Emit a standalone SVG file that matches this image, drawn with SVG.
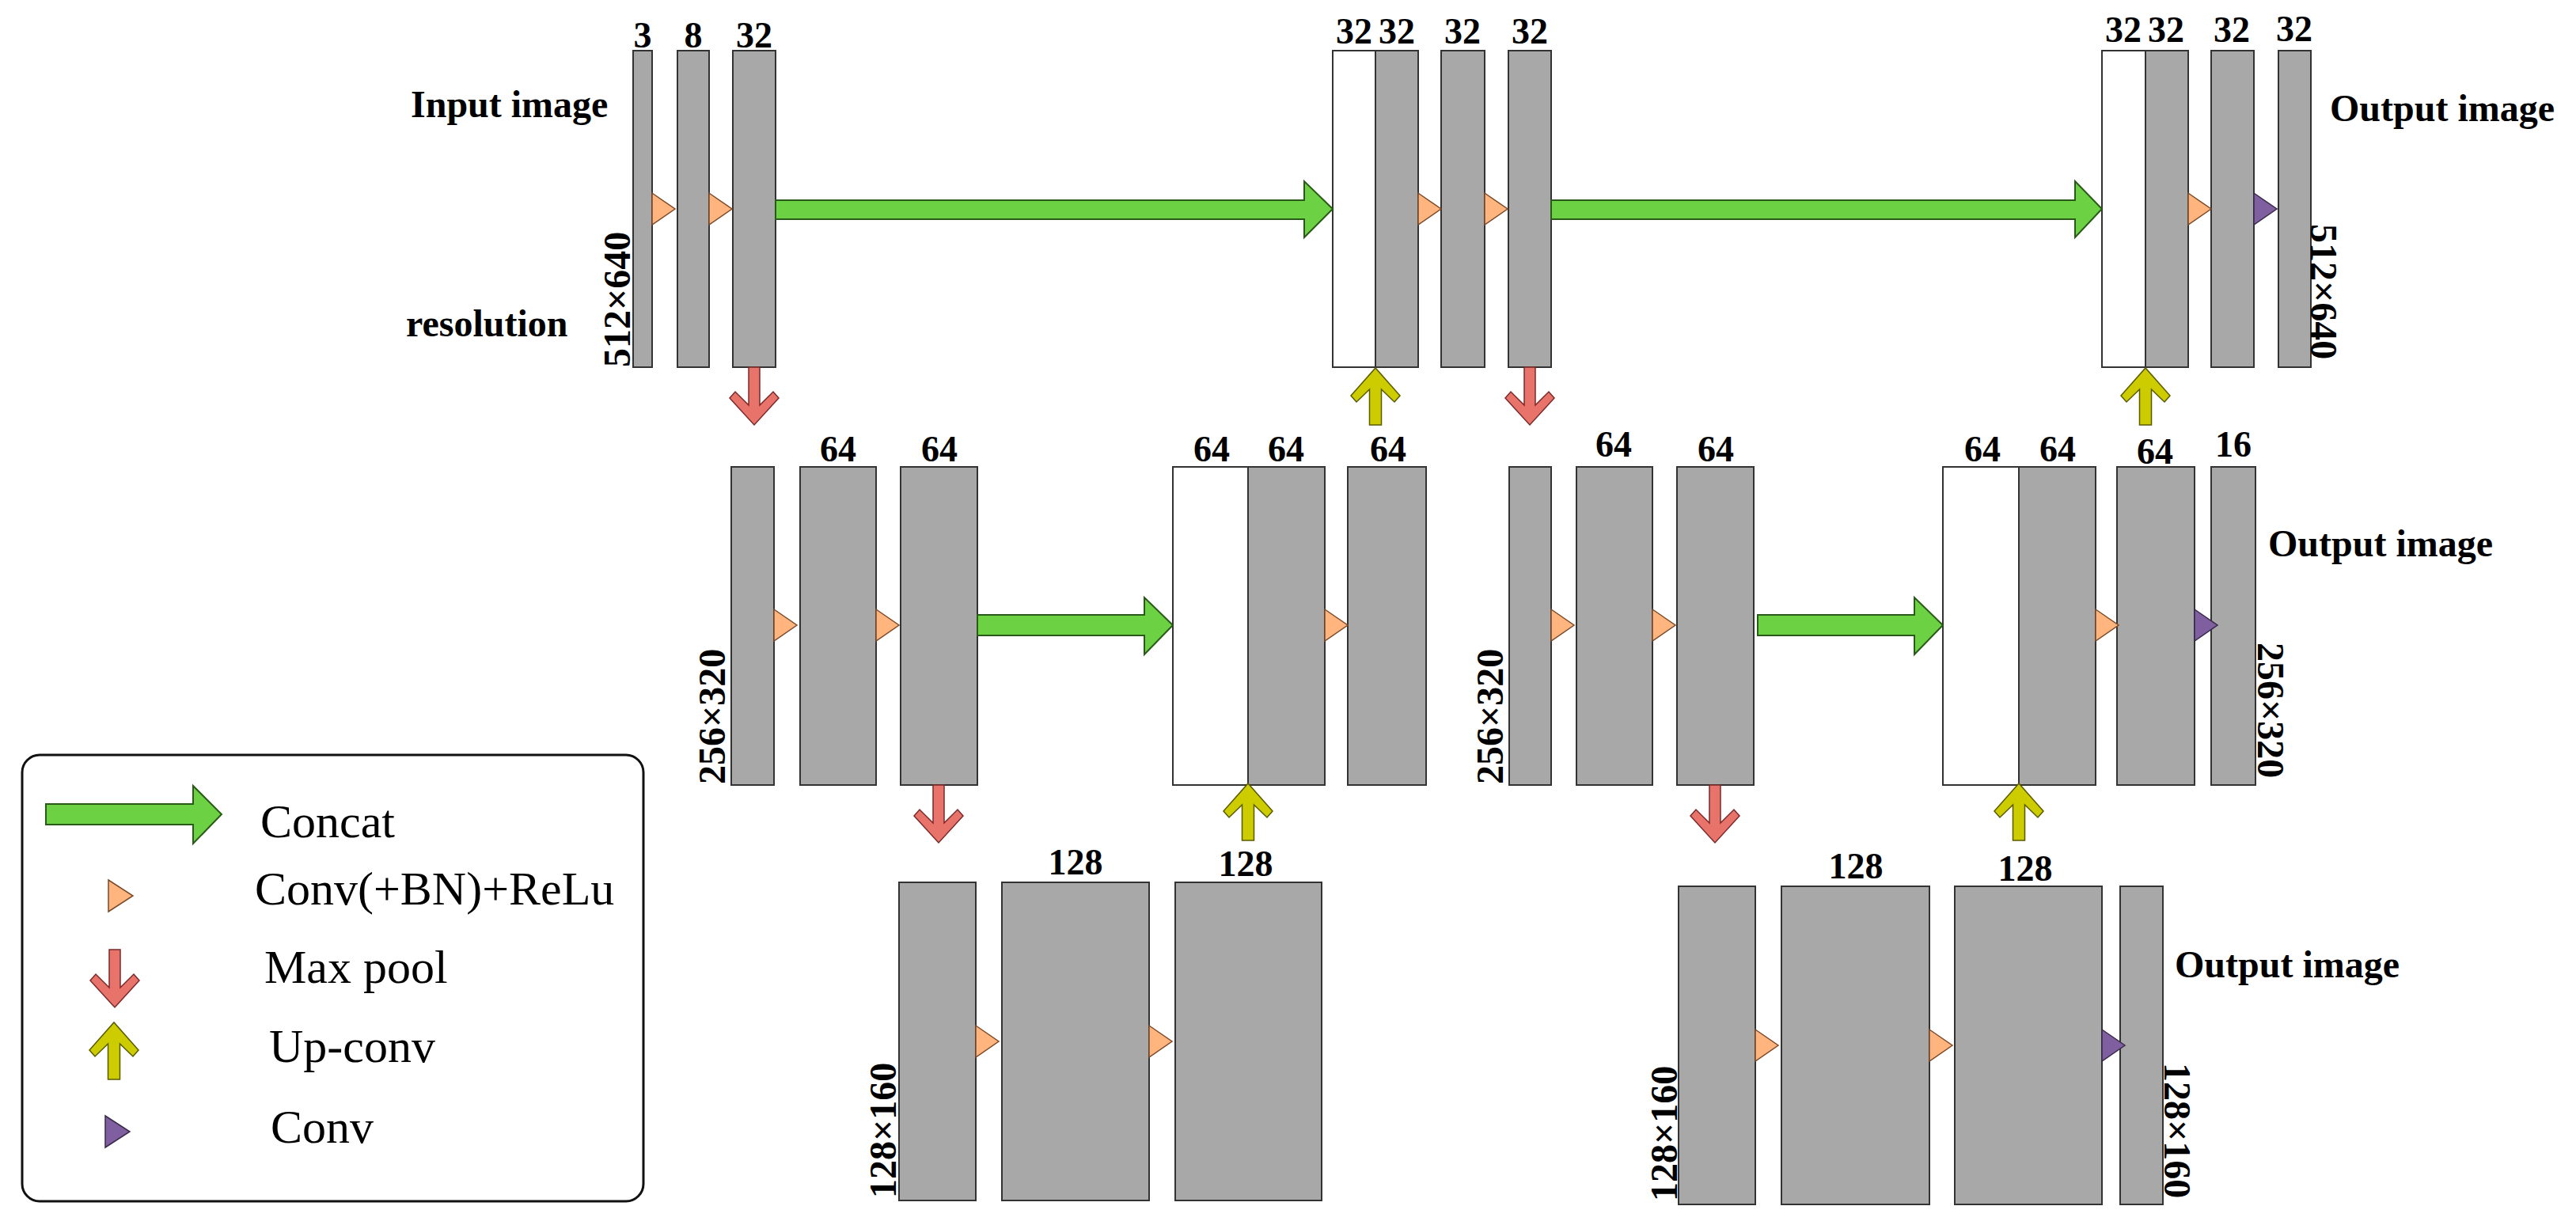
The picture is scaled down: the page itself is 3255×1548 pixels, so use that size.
<svg xmlns="http://www.w3.org/2000/svg" width="3255" height="1548" viewBox="0 0 3255 1548">
<style>
.b{fill:#a8a8a8;stroke:#333;stroke-width:2}
.w{fill:#fff;stroke:#333;stroke-width:2}
.o{fill:#ffb57d;stroke:#7a4a2a;stroke-width:1.5}
.p{fill:#7f5f9f;stroke:#3a2a4a;stroke-width:1.5}
.g{fill:#6dd144;stroke:#2a5a1a;stroke-width:2}
.r{fill:#e8736b;stroke:#7a2a2a;stroke-width:1.5}
.y{fill:#cccc00;stroke:#5a5a00;stroke-width:1.5}
text{font-family:"Liberation Serif","Times New Roman",serif;fill:#000}
.n{font-size:46px;font-weight:bold;text-anchor:middle}
.t{font-size:48px;font-weight:bold}
.l{font-size:60px}
</style>
<defs>
<polygon id="down" points="-7,0 7,0 7,48 24,31 31,39 0,73 -31,39 -24,31 -7,48"/>
<polygon id="up" points="-7.5,0 7.5,0 7.5,-45 24,-29 31,-37 0,-72 -31,-37 -24,-29 -7.5,-45"/>
<polygon id="tri" points="0,-20 29,0 0,20"/>
</defs>

<g id="legend">
<rect x="28" y="954" width="785" height="564" rx="22" fill="#fff" stroke="#111" stroke-width="3"/>
<polygon class="g" points="58,1016 244,1016 244,993 280,1029 244,1066 244,1042 58,1042"/>
<text class="l" x="329" y="1058">Concat</text>
<polygon class="o" points="137,1112 168,1132 137,1152"/>
<text class="l" x="322" y="1143">Conv(+BN)+ReLu</text>
<use href="#down" class="r" x="145" y="1200"/>
<text class="l" x="334" y="1242">Max pool</text>
<use href="#up" class="y" x="144" y="1364"/>
<text class="l" x="340" y="1342">Up-conv</text>
<polygon class="p" points="133,1410 164,1430 133,1450"/>
<text class="l" x="342" y="1444">Conv</text>
</g>

<g id="row1-encoder">
<rect class="b" x="800" y="64" width="24" height="400"/>
<rect class="b" x="856" y="64" width="40" height="400"/>
<rect class="b" x="926" y="64" width="54" height="400"/>
<text class="n" x="812" y="60">3</text>
<text class="n" x="876" y="60">8</text>
<text class="n" x="953" y="60">32</text>
<text class="t" x="519" y="148">Input image</text>
<text class="t" x="513" y="425">resolution</text>
<text class="t" transform="translate(796,464) rotate(-90)">512×640</text>
</g>

<g id="row1-decoder1">
<rect class="w" x="1684" y="64" width="54" height="400"/>
<rect class="b" x="1738" y="64" width="54" height="400"/>
<rect class="b" x="1821" y="64" width="55" height="400"/>
<rect class="b" x="1906" y="64" width="54" height="400"/>
<text class="n" x="1711" y="55">32</text>
<text class="n" x="1765" y="55">32</text>
<text class="n" x="1848" y="55">32</text>
<text class="n" x="1933" y="55">32</text>
</g>

<g id="row1-decoder2">
<rect class="w" x="2656" y="64" width="55" height="400"/>
<rect class="b" x="2711" y="64" width="54" height="400"/>
<rect class="b" x="2794" y="64" width="54" height="400"/>
<rect class="b" x="2879" y="64" width="41" height="400"/>
<text class="n" x="2683" y="53">32</text>
<text class="n" x="2737" y="53">32</text>
<text class="n" x="2820" y="53">32</text>
<text class="n" x="2899" y="52">32</text>
<text class="t" x="2944" y="153">Output image</text>
<text class="t" transform="translate(2920,283) rotate(90)">512×640</text>
</g>

<g id="row2-left">
<rect class="b" x="924" y="590" width="54" height="402"/>
<rect class="b" x="1011" y="590" width="96" height="402"/>
<rect class="b" x="1138" y="590" width="97" height="402"/>
<rect class="w" x="1482" y="590" width="95" height="402"/>
<rect class="b" x="1577" y="590" width="97" height="402"/>
<rect class="b" x="1703" y="590" width="99" height="402"/>
<text class="n" x="1059" y="583">64</text>
<text class="n" x="1187" y="583">64</text>
<text class="n" x="1531" y="583">64</text>
<text class="n" x="1625" y="583">64</text>
<text class="n" x="1754" y="583">64</text>
<text class="t" transform="translate(916,991) rotate(-90)">256×320</text>
</g>

<g id="row2-right">
<rect class="b" x="1907" y="590" width="53" height="402"/>
<rect class="b" x="1992" y="590" width="96" height="402"/>
<rect class="b" x="2119" y="590" width="97" height="402"/>
<rect class="w" x="2455" y="590" width="96" height="402"/>
<rect class="b" x="2551" y="590" width="97" height="402"/>
<rect class="b" x="2675" y="590" width="98" height="402"/>
<rect class="b" x="2794" y="590" width="56" height="402"/>
<text class="n" x="2039" y="577">64</text>
<text class="n" x="2168" y="583">64</text>
<text class="n" x="2505" y="583">64</text>
<text class="n" x="2600" y="583">64</text>
<text class="n" x="2723" y="586">64</text>
<text class="n" x="2822" y="577">16</text>
<text class="t" x="2866" y="703">Output image</text>
<text class="t" transform="translate(900,991) rotate(-90)" x="1007" y="1007" opacity="0"></text>
<text class="t" transform="translate(1899,991) rotate(-90)">256×320</text>
<text class="t" transform="translate(2853,812) rotate(90)">256×320</text>
</g>

<g id="row3-left">
<rect class="b" x="1136" y="1115" width="97" height="402"/>
<rect class="b" x="1266" y="1115" width="186" height="402"/>
<rect class="b" x="1485" y="1115" width="185" height="402"/>
<text class="n" x="1359" y="1105">128</text>
<text class="n" x="1574" y="1107">128</text>
<text class="t" transform="translate(1132,1514) rotate(-90)">128×160</text>
</g>

<g id="row3-right">
<rect class="b" x="2121" y="1120" width="97" height="402"/>
<rect class="b" x="2251" y="1120" width="187" height="402"/>
<rect class="b" x="2470" y="1120" width="186" height="402"/>
<rect class="b" x="2679" y="1120" width="54" height="402"/>
<text class="n" x="2345" y="1110">128</text>
<text class="n" x="2559" y="1113">128</text>
<text class="t" x="2748" y="1235">Output image</text>
<text class="t" transform="translate(2119,1518) rotate(-90)">128×160</text>
<text class="t" transform="translate(2735,1343) rotate(90)">128×160</text>
</g>

<g id="connectors">
<polygon class="g" points="980,253 1648,253 1648,229 1684,264 1648,300 1648,277 980,277"/>
<polygon class="g" points="1960,253 2622,253 2622,229 2656,264 2622,300 2622,277 1960,277"/>
<polygon class="g" points="1235,777 1446,777 1446,755 1482,790 1446,827 1446,803 1235,803"/>
<polygon class="g" points="2221,777 2419,777 2419,755 2455,790 2419,827 2419,803 2221,803"/>
<use href="#tri" class="o" x="824" y="264"/>
<use href="#tri" class="o" x="896" y="264"/>
<use href="#tri" class="o" x="1792" y="264"/>
<use href="#tri" class="o" x="1876" y="264"/>
<use href="#tri" class="o" x="2765" y="264"/>
<use href="#tri" class="p" x="2848" y="264"/>
<use href="#tri" class="o" x="978" y="790"/>
<use href="#tri" class="o" x="1107" y="790"/>
<use href="#tri" class="o" x="1674" y="790"/>
<use href="#tri" class="o" x="1960" y="790"/>
<use href="#tri" class="o" x="2088" y="790"/>
<use href="#tri" class="o" x="2648" y="790"/>
<use href="#tri" class="p" x="2773" y="790"/>
<use href="#tri" class="o" x="1233" y="1316"/>
<use href="#tri" class="o" x="1452" y="1316"/>
<use href="#tri" class="o" x="2218" y="1321"/>
<use href="#tri" class="o" x="2438" y="1321"/>
<use href="#tri" class="p" x="2656" y="1321"/>
<use href="#down" class="r" x="953" y="464"/>
<use href="#down" class="r" x="1933" y="464"/>
<use href="#up" class="y" x="1738" y="537"/>
<use href="#up" class="y" x="2711" y="537"/>
<use href="#down" class="r" x="1186" y="992"/>
<use href="#down" class="r" x="2167" y="992"/>
<use href="#up" class="y" x="1577" y="1062"/>
<use href="#up" class="y" x="2551" y="1062"/>
</g>
</svg>
